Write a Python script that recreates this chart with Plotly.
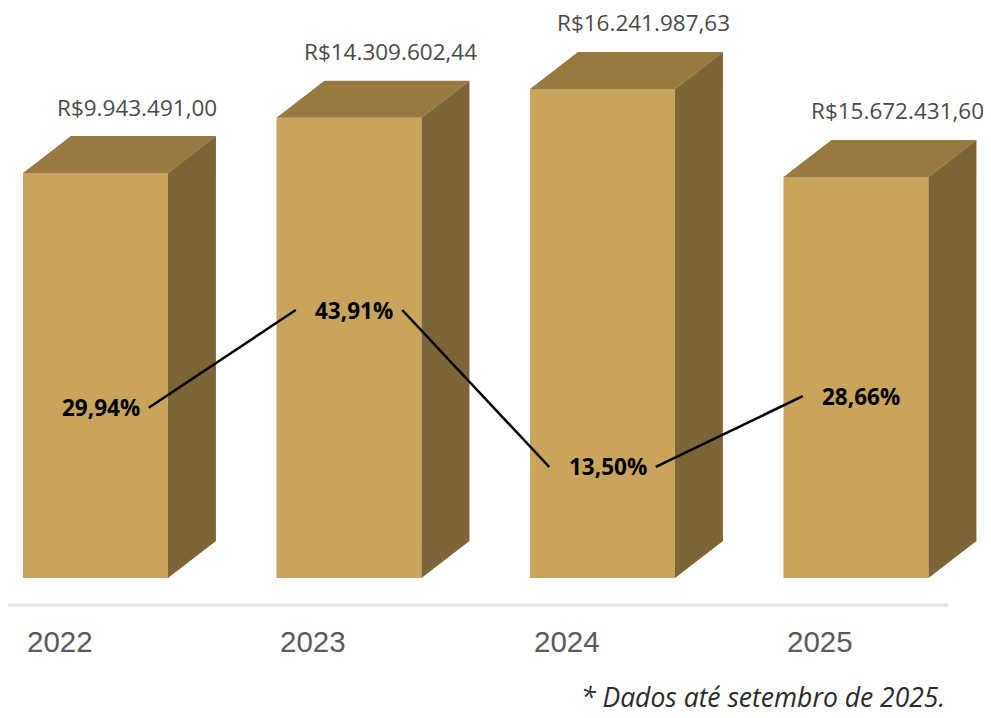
import plotly.graph_objects as go

# ---- data ----
years = ['2022', '2023', '2024', '2025']
revenue = [9943491.00, 14309602.44, 16241987.63, 15672431.60]
growth = [29.94, 43.91, 13.50, 28.66]
# drawn bar height (schematic, % of tallest bar) and drawn level of the growth line
bar_height = [82.8, 94.1, 100.0, 82.0]
growth_level = [34.8, 54.8, 22.7, 37.2]
footnote = '* Dados até setembro de 2025.'

# ---- style ----
FRONT = '#C8A45C'
TOP = '#98793F'
SIDE = '#7D6537'
BAR_W = 0.572
DX, DY = 0.189, 7.57      # 3d depth
GAP = 0.21                # line stops short of the % labels


def brl(v):
    s = f'{v:,.2f}'
    return 'R$' + s.replace(',', '_').replace('.', ',').replace('_', '.')


def pct(v):
    return f'{v:.2f}'.replace('.', ',') + '%'


xs = list(range(len(years)))
fig = go.Figure()

# front faces
fig.add_trace(go.Bar(x=xs, y=bar_height, width=BAR_W,
                     marker=dict(color=FRONT, line=dict(width=0)),
                     hoverinfo='skip'))

# top and side faces
for x, h in zip(xs, bar_height):
    x0, x1 = x - BAR_W / 2, x + BAR_W / 2
    fig.add_trace(go.Scatter(
        x=[x0, x1, x1 + DX, x0 + DX, x0], y=[h, h, h + DY, h + DY, h],
        fill='toself', fillcolor=TOP, mode='lines', line=dict(width=0),
        hoverinfo='skip'))
    fig.add_trace(go.Scatter(
        x=[x1, x1 + DX, x1 + DX, x1, x1], y=[0, DY, h + DY, h, 0],
        fill='toself', fillcolor=SIDE, mode='lines', line=dict(width=0),
        hoverinfo='skip'))

# growth line, broken around the labels
lx, ly = [], []
for i in range(len(xs) - 1):
    lx += [xs[i] + GAP, xs[i + 1] - GAP, None]
    ly += [growth_level[i], growth_level[i + 1], None]
fig.add_trace(go.Scatter(x=lx, y=ly, mode='lines',
                         line=dict(color='black', width=2.5), hoverinfo='skip'))

# labels
for x, h, v, g, gl, yr in zip(xs, bar_height, revenue, growth, growth_level, years):
    fig.add_annotation(x=x + 0.162, y=h + DY, yshift=29, text=brl(v),
                       showarrow=False, yanchor='middle',
                       font=dict(family='Open Sans', size=22.5, color='#4a4a4a'))
    fig.add_annotation(x=x + 0.02, y=gl, text=f'<b>{pct(g)}</b>', showarrow=False,
                       font=dict(family='Open Sans', size=22.5, color='black'))
    fig.add_annotation(x=x - 0.142, y=-12.9, text=yr, showarrow=False,
                       font=dict(family='Liberation Sans', size=29.5, color='#5a5a5a'))

fig.add_annotation(xref='paper', yref='paper', x=0.955, y=0.03, text=f'<i>{footnote}</i>',
                   showarrow=False, xanchor='right', yanchor='middle',
                   font=dict(family='Open Sans', size=26.5, color='#2a2a2a'))

# baseline
fig.add_shape(type='line', xref='paper', yref='y', x0=0, x1=0.956, y0=-5.5, y1=-5.5,
              line=dict(color='#e2e2e2', width=3))

fig.update_layout(
    width=983, height=710, autosize=False,
    margin=dict(l=0, r=0, t=0, b=0),
    plot_bgcolor='white', paper_bgcolor='white',
    showlegend=False,
    xaxis=dict(range=[-0.3452, 3.5325], visible=False, fixedrange=True),
    yaxis=dict(range=[-28.63, 116.56], visible=False, fixedrange=True),
)

fig.write_html('out.html')
